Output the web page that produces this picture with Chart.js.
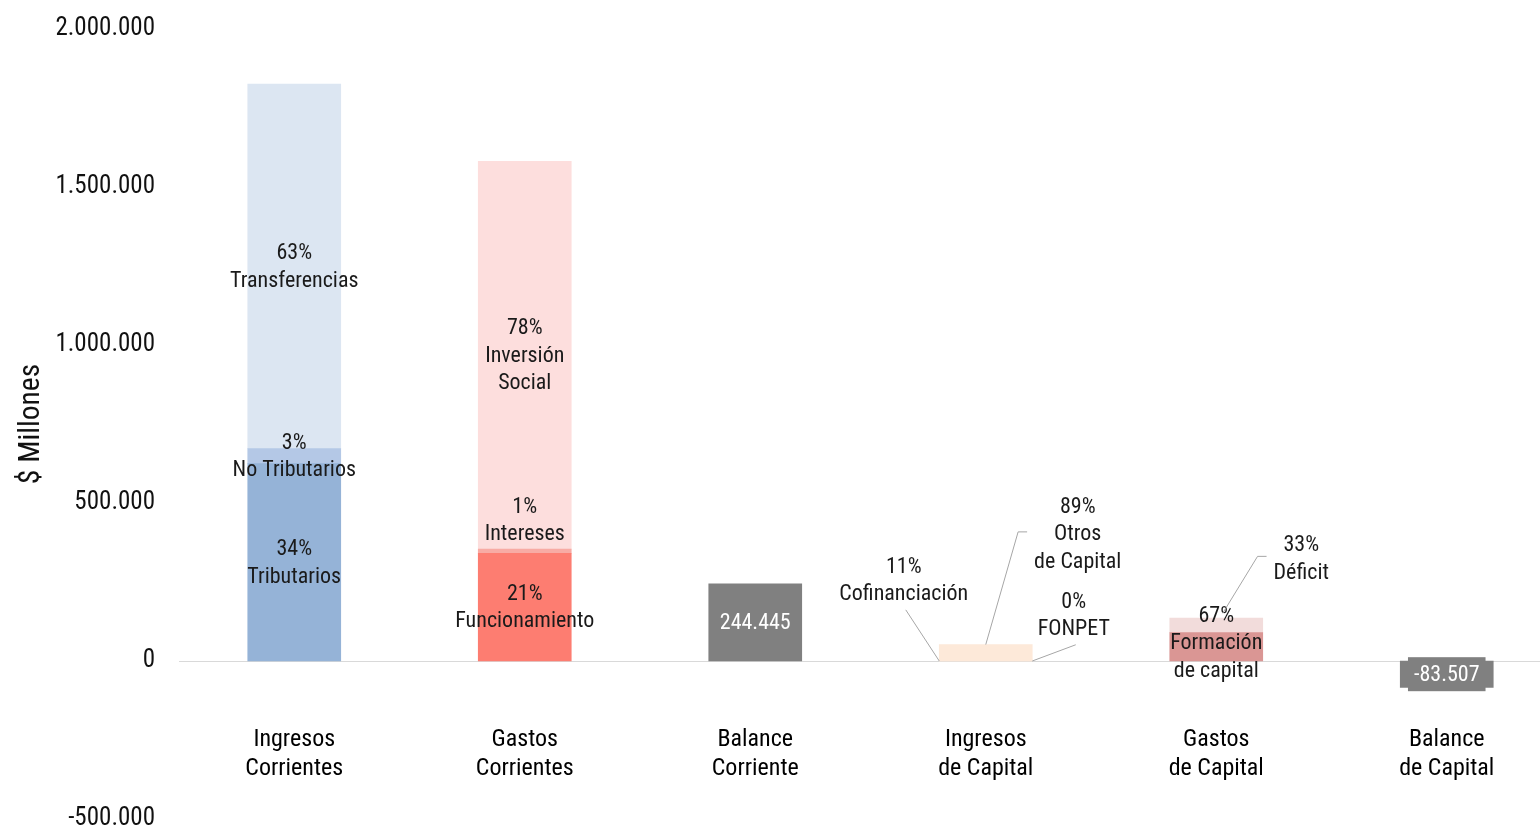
<!DOCTYPE html>
<html>
<head>
<meta charset="utf-8">
<script src="https://cdn.jsdelivr.net/npm/chart.js@4.4.1/dist/chart.umd.min.js"></script>
<style>
  html, body { margin: 0; padding: 0; overflow: hidden; background: #fff; }
  #wrap { width: 1540px; height: 828px; overflow: hidden; }
  #fiscalChart { display: block; margin-top: -10px; }
</style>
</head>
<body>
<div id="wrap"><canvas id="fiscalChart" width="1562" height="868"></canvas></div>
<script>
// categorias (eje x)
const categories = [
  ['Ingresos', 'Corrientes'],
  ['Gastos', 'Corrientes'],
  ['Balance', 'Corriente'],
  ['Ingresos', 'de Capital'],
  ['Gastos', 'de Capital'],
  ['Balance', 'de Capital']
];

// componentes en $ millones
const tributarios      = [624500, null, null, null, null, null];
const noTributarios    = [47500, null, null, null, null, null];
const transferencias   = [1154000, null, null, null, null, null];
const funcionamiento   = [null, 341000, null, null, null, null];
const intereses        = [null, 13000, null, null, null, null];
const inversionSocial  = [null, 1227555, null, null, null, null];
const fonpet           = [null, null, null, 0, null, null];
const cofinanciacion   = [null, null, null, 5700, null, null];
const otrosCapital     = [null, null, null, 46300, null, null];
const formacionCapital = [null, null, null, null, 90000, null];
const deficit          = [null, null, null, null, 45507, null];
const balances         = [null, null, 244445, null, null, -83507];

// etiquetas de participacion
const shareLabels = ['34%', '3%', '63%', '21%', '1%', '78%', '0%', '11%', '89%', '67%', '33%'];
const nameLabels = [
  ['Tributarios'], ['No Tributarios'], ['Transferencias'],
  ['Funcionamiento'], ['Intereses'], ['Inversión', 'Social'],
  ['FONPET'], ['Cofinanciación'], ['Otros', 'de Capital'],
  ['Formación', 'de capital'], ['Déficit']
];

// ticks eje y
const yTicks = [-500000, 0, 500000, 1000000, 1500000, 2000000];

const FONT = '"Roboto Condensed", "Liberation Sans Narrow", "Arial Narrow", Roboto, sans-serif';

function fmt(v) {
  const s = String(Math.abs(Math.round(v))).replace(/\B(?=(\d{3})+(?!\d))/g, '.');
  return (v < 0 ? '-' : '') + s;
}

// estilo de cada componente: color, desplazamiento de la etiqueta, linea guia
const parts = [
  { data: tributarios,      color: '#95B3D7' },
  { data: noTributarios,    color: '#B4C8E6' },
  { data: transferencias,   color: '#DCE6F2' },
  { data: funcionamiento,   color: '#FD7D71' },
  { data: intereses,        color: '#F8ABA4', offset: [0, -31] },
  { data: inversionSocial,  color: '#FDDEDD' },
  { data: fonpet,           color: '#FDE9D9', offset: [88, -46], leader: { from: 'bottom', to: [1, 1] } },
  { data: cofinanciacion,   color: '#FDE9D9', offset: [-82, -80], leader: { from: 'bottom', to: [0, 1] } },
  { data: otrosCapital,     color: '#FDE9D9', offset: [92, -118], leader: { from: 'left', to: [0.5, 0] } },
  { data: formacionCapital, color: '#DA9694', offset: [0, -4] },
  { data: deficit,          color: '#F2DCDB', offset: [85, -67], leader: { from: 'left', to: [0.57, 0, -5] } }
];

const datasets = parts.map((p, i) => ({
  label: nameLabels[i].join(' '),
  data: p.data,
  backgroundColor: p.color,
  labelLines: [shareLabels[i]].concat(nameLabels[i]),
  labelOffset: p.offset || [0, 0],
  leader: p.leader
}));
datasets.push({
  label: 'Balance',
  data: balances,
  backgroundColor: '#808080',
  labelColor: '#fff',
  labelBox: '#808080'
});

// etiquetas de datos dibujadas sobre cada segmento
const segmentLabels = {
  id: 'segmentLabels',
  afterDatasetsDraw(chart) {
    const ctx = chart.ctx;
    ctx.save();
    ctx.font = '22px ' + FONT;
    ctx.textAlign = 'center';
    ctx.textBaseline = 'middle';
    const lh = 27.5;
    chart.data.datasets.forEach((ds, i) => {
      const meta = chart.getDatasetMeta(i);
      meta.data.forEach((bar, j) => {
        const v = ds.data[j];
        if (v === null || v === undefined) return;
        const p = bar.getProps(['x', 'y', 'base', 'width'], true);
        const top = Math.min(p.y, p.base), bottom = Math.max(p.y, p.base);
        const lines = ds.labelLines || [fmt(v)];
        const off = ds.labelOffset || [0, 0];
        const lx = p.x + off[0], ly = (top + bottom) / 2 + off[1];
        const y0 = ly - (lines.length - 1) * lh / 2;
        const w = Math.max(...lines.map(t => ctx.measureText(t).width));
        if (ds.labelBox) {
          ctx.fillStyle = ds.labelBox;
          ctx.fillRect(lx - w / 2 - 6, ly - 17, w + 12, 34);
        }
        if (ds.leader) {
          const L = ds.leader;
          const tx = p.x - p.width / 2 + L.to[0] * p.width;
          const ty = top + L.to[1] * (bottom - top) + (L.to[2] || 0);
          ctx.strokeStyle = '#A6A6A6';
          ctx.lineWidth = 1;
          ctx.beginPath();
          if (L.from === 'left') {
            const sx = lx - w / 2 - 7;
            ctx.moveTo(sx, ly - 2);
            ctx.lineTo(sx - 9, ly - 2);
          } else {
            ctx.moveTo(lx + 2, y0 + (lines.length - 1) * lh + 16);
          }
          ctx.lineTo(tx, ty);
          ctx.stroke();
        }
        ctx.fillStyle = ds.labelColor || '#1a1a1a';
        lines.forEach((t, k) => ctx.fillText(t, lx, y0 + k * lh + 1));
      });
    });
    ctx.restore();
  }
};

const ctx = document.getElementById('fiscalChart').getContext('2d');
const fiscalChart = new Chart(ctx, {
  type: 'bar',
  data: { labels: categories, datasets: datasets },
  options: {
    responsive: false,
    animation: false,
    devicePixelRatio: 1,
    layout: { padding: { top: 15, bottom: 12, left: 0, right: 0 } },
    datasets: { bar: { barThickness: 93 } },
    plugins: { legend: { display: false }, tooltip: { enabled: false } },
    scales: {
      x: {
        stacked: true,
        position: { y: 0 },
        grid: { display: false, drawTicks: false },
        border: { display: true, color: '#D9D9D9', width: 1 },
        ticks: {
          padding: 65,
          autoSkip: false,
          maxRotation: 0,
          color: '#000',
          font: { family: FONT, size: 24 }
        },
        afterFit(scale) { scale.height = 0; }
      },
      y: {
        stacked: true,
        min: yTicks[0],
        max: yTicks[yTicks.length - 1],
        afterBuildTicks(scale) { scale.ticks = yTicks.map(v => ({ value: v })); },
        grid: { display: false, drawTicks: false },
        border: { display: false },
        ticks: {
          padding: 24,
          color: '#111',
          font: { family: FONT, size: 25 },
          callback: v => fmt(v)
        },
        title: {
          display: true,
          text: '$ Millones',
          color: '#111',
          font: { family: FONT, size: 29.5 },
          padding: { top: 14, bottom: 0 }
        },
        afterFit(scale) { scale.width = 179; }
      }
    }
  },
  plugins: [segmentLabels]
});
</script>
</body>
</html>
